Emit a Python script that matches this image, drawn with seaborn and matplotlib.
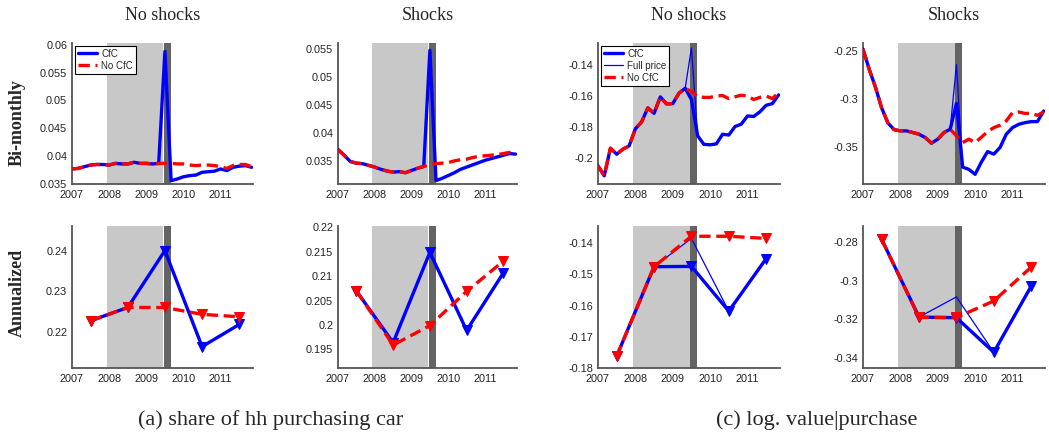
import matplotlib
matplotlib.use("Agg")
import matplotlib.pyplot as plt
import seaborn as sns
from matplotlib.ticker import FuncFormatter, FixedLocator
from matplotlib.lines import Line2D

sns.set_style("white")
plt.rcParams['font.family'] = ['Liberation Sans', 'DejaVu Sans']
plt.rcParams['axes.unicode_minus'] = False

# ---------------- data ----------------
bm_x = [2007.000, 2007.167, 2007.333, 2007.500, 2007.667, 2007.833,
        2008.000, 2008.167, 2008.333, 2008.500, 2008.667, 2008.833,
        2009.000, 2009.167, 2009.333, 2009.500, 2009.667, 2009.833,
        2010.000, 2010.167, 2010.333, 2010.500, 2010.667, 2010.833,
        2011.000, 2011.167, 2011.333, 2011.500, 2011.667, 2011.833]
ann_x = [2007.5, 2008.5, 2009.5, 2010.5, 2011.5]
year_ticks = [2007, 2008, 2009, 2010, 2011]

# (a) share of hh purchasing car, bi-monthly
share_ns_cfc = [0.0377, 0.0378, 0.0381, 0.0384, 0.0385, 0.0385, 0.0384, 0.0387, 0.0386, 0.0386,
                0.0389, 0.0387, 0.0387, 0.0386, 0.0387, 0.0588, 0.0356, 0.0359, 0.0363, 0.0365,
                0.0366, 0.0371, 0.0372, 0.0373, 0.0377, 0.0374, 0.0380, 0.0382, 0.0383, 0.0380]
share_ns_nocfc = [0.0377, 0.0378, 0.0381, 0.0384, 0.0385, 0.0385, 0.0384, 0.0387, 0.0386, 0.0386,
                  0.0389, 0.0387, 0.0387, 0.0386, 0.0387, 0.0387, 0.0387, 0.0386, 0.0386, 0.0384,
                  0.0383, 0.0384, 0.0384, 0.0383, 0.0381, 0.0378, 0.0383, 0.0385, 0.0385, 0.0381]
share_sh_cfc = [0.0371, 0.0361, 0.0350, 0.0347, 0.0346, 0.0343, 0.0340, 0.0336, 0.0333, 0.0331,
                0.0332, 0.0330, 0.0334, 0.0338, 0.0341, 0.0547, 0.0316, 0.0320, 0.0325, 0.0330,
                0.0336, 0.0340, 0.0344, 0.0348, 0.0352, 0.0355, 0.0358, 0.0361, 0.0364, 0.0363]
share_sh_nocfc = [0.0371, 0.0361, 0.0350, 0.0347, 0.0346, 0.0343, 0.0340, 0.0336, 0.0333, 0.0331,
                  0.0332, 0.0330, 0.0334, 0.0338, 0.0341, 0.0344, 0.0346, 0.0347, 0.0348, 0.0351,
                  0.0353, 0.0354, 0.0357, 0.0359, 0.0360, 0.0361, 0.0362, 0.0364, 0.0366, 0.0365]

# (c) log. value | purchase, bi-monthly
logv_ns_cfc = [-0.2054, -0.2118, -0.1940, -0.1979, -0.1946, -0.1925, -0.1815, -0.1770, -0.1680, -0.1715,
               -0.1609, -0.1654, -0.1652, -0.1585, -0.1553, -0.1626, -0.1860, -0.1915, -0.1918, -0.1912,
               -0.1850, -0.1855, -0.1800, -0.1785, -0.1732, -0.1735, -0.1705, -0.1663, -0.1652, -0.1596]
logv_ns_full = [-0.2054, -0.2118, -0.1940, -0.1979, -0.1946, -0.1925, -0.1815, -0.1770, -0.1680, -0.1715,
                -0.1609, -0.1654, -0.1652, -0.1585, -0.1553, -0.1293, -0.1860, -0.1915, -0.1918, -0.1912,
                -0.1850, -0.1855, -0.1800, -0.1785, -0.1732, -0.1735, -0.1705, -0.1663, -0.1652, -0.1596]
logv_ns_nocfc = [-0.2054, -0.2118, -0.1940, -0.1979, -0.1946, -0.1925, -0.1815, -0.1770, -0.1680, -0.1715,
                 -0.1609, -0.1654, -0.1652, -0.1585, -0.1553, -0.1575, -0.1605, -0.1612, -0.1612, -0.1603,
                 -0.1600, -0.1620, -0.1608, -0.1598, -0.1603, -0.1626, -0.1612, -0.1603, -0.1620, -0.1580]
logv_sh_cfc = [-0.2476, -0.2690, -0.2875, -0.3094, -0.3250, -0.3320, -0.3333, -0.3333, -0.3350, -0.3368,
               -0.3403, -0.3462, -0.3420, -0.3350, -0.3316, -0.3045, -0.3712, -0.3736, -0.3788, -0.3660,
               -0.3550, -0.3576, -0.3507, -0.3368, -0.3299, -0.3264, -0.3247, -0.3236, -0.3236, -0.3125]
logv_sh_full = [-0.2476, -0.2690, -0.2875, -0.3094, -0.3250, -0.3320, -0.3333, -0.3333, -0.3350, -0.3368,
                -0.3403, -0.3462, -0.3420, -0.3350, -0.3316, -0.2639, -0.3712, -0.3736, -0.3788, -0.3660,
                -0.3550, -0.3576, -0.3507, -0.3368, -0.3299, -0.3264, -0.3247, -0.3236, -0.3236, -0.3125]
logv_sh_nocfc = [-0.2476, -0.2690, -0.2875, -0.3094, -0.3250, -0.3320, -0.3333, -0.3333, -0.3350, -0.3368,
                 -0.3403, -0.3462, -0.3420, -0.3350, -0.3316, -0.3385, -0.3455, -0.3420, -0.3455, -0.3400,
                 -0.3340, -0.3299, -0.3274, -0.3229, -0.3142, -0.3135, -0.3150, -0.3150, -0.3170, -0.3135]

# annualized
share_ns_ann_cfc = [0.2227, 0.2260, 0.2401, 0.2163, 0.2218]
share_ns_ann_nocfc = [0.2227, 0.2260, 0.2260, 0.2243, 0.2237]
share_sh_ann_cfc = [0.2070, 0.1964, 0.2149, 0.1989, 0.2107]
share_sh_ann_nocfc = [0.2070, 0.1959, 0.1999, 0.2069, 0.2131]
logv_ns_ann_cfc = [-0.1763, -0.1475, -0.1474, -0.1618, -0.1449]
logv_ns_ann_full = [-0.1763, -0.1475, -0.1384, -0.1618, -0.1449]
logv_ns_ann_nocfc = [-0.1763, -0.1475, -0.1377, -0.1377, -0.1384]
logv_sh_ann_cfc = [-0.2788, -0.3188, -0.3191, -0.3369, -0.3029]
logv_sh_ann_full = [-0.2788, -0.3188, -0.3084, -0.3369, -0.3029]
logv_sh_ann_nocfc = [-0.2788, -0.3190, -0.3190, -0.3105, -0.2931]

col_titles = ["No shocks", "Shocks", "No shocks", "Shocks"]
row_labels = ["Bi-monthly", "Annualized"]
captions = ["(a) share of hh purchasing car", "(c) log. value|purchase"]
legend_a = ["CfC", "No CfC"]
legend_c = ["CfC", "Full price", "No CfC"]

yticks = [
    [0.035, 0.04, 0.045, 0.05, 0.055, 0.06],
    [0.035, 0.04, 0.045, 0.05, 0.055],
    [-0.2, -0.18, -0.16, -0.14],
    [-0.35, -0.3, -0.25],
    [0.22, 0.23, 0.24],
    [0.195, 0.2, 0.205, 0.21, 0.215, 0.22],
    [-0.18, -0.17, -0.16, -0.15, -0.14],
    [-0.34, -0.32, -0.3, -0.28],
]
ylims = [
    (0.0350, 0.0603), (0.0310, 0.0560), (-0.2171, -0.1261), (-0.3889, -0.2413),
    (0.2110, 0.2462), (0.1912, 0.2203), (-0.1801, -0.1344), (-0.3450, -0.2719),
]

# ---------------- figure ----------------
W, H = 1049, 433
fig = plt.figure(figsize=(W / 100, H / 100), dpi=100)

col_px = [(72, 253), (338, 517), (598, 780), (863, 1045)]
row_px = [(43, 184), (226, 368)]

BLUE = '#0000FF'
RED = '#FF0000'
LGREY = '#C8C8C8'
DGREY = '#646464'
AXC = '#555555'

def make_ax(r, c):
    x0, x1 = col_px[c]
    y0, y1 = row_px[r]
    ax = fig.add_axes([x0 / W, 1 - y1 / H, (x1 - x0) / W, (y1 - y0) / H])
    return ax

def line(ax, x, y, color, lw, ls='-', marker=None, z=3):
    sns.lineplot(x=x, y=y, ax=ax, color=color, linewidth=lw, linestyle=ls,
                 marker=marker, markersize=6.5, markeredgecolor=color,
                 markerfacecolor=color, estimator=None, sort=False,
                 legend=False, zorder=z)

DASH = (0, (3.4, 1.7))

axes = []
for r in range(2):
    for c in range(4):
        ax = make_ax(r, c)
        axes.append(ax)
        ax.axvspan(2007.93, 2009.455, color=LGREY, lw=0, zorder=0)
        ax.axvspan(2009.47, 2009.66, color=DGREY, lw=0, zorder=0)

# top row
line(axes[0], bm_x, share_ns_cfc, BLUE, 2.4)
line(axes[0], bm_x, share_ns_nocfc, RED, 2.4, DASH)
line(axes[1], bm_x, share_sh_cfc, BLUE, 2.4)
line(axes[1], bm_x, share_sh_nocfc, RED, 2.4, DASH)
line(axes[2], bm_x, logv_ns_cfc, BLUE, 2.4)
line(axes[2], bm_x, logv_ns_full, BLUE, 0.9)
line(axes[2], bm_x, logv_ns_nocfc, RED, 2.4, DASH)
line(axes[3], bm_x, logv_sh_cfc, BLUE, 2.4)
line(axes[3], bm_x, logv_sh_full, BLUE, 0.9)
line(axes[3], bm_x, logv_sh_nocfc, RED, 2.4, DASH)

# bottom row
line(axes[4], ann_x, share_ns_ann_cfc, BLUE, 2.4, '-', 'v')
line(axes[4], ann_x, share_ns_ann_nocfc, RED, 2.4, DASH, 'v')
line(axes[5], ann_x, share_sh_ann_cfc, BLUE, 2.4, '-', 'v')
line(axes[5], ann_x, share_sh_ann_nocfc, RED, 2.4, DASH, 'v')
line(axes[6], ann_x, logv_ns_ann_cfc, BLUE, 2.4, '-', 'v')
line(axes[6], ann_x, logv_ns_ann_full, BLUE, 0.9)
line(axes[6], ann_x, logv_ns_ann_nocfc, RED, 2.4, DASH, 'v')
line(axes[7], ann_x, logv_sh_ann_cfc, BLUE, 2.4, '-', 'v')
line(axes[7], ann_x, logv_sh_ann_full, BLUE, 0.9)
line(axes[7], ann_x, logv_sh_ann_nocfc, RED, 2.4, DASH, 'v')

fmt = FuncFormatter(lambda v, p: '{:g}'.format(round(v, 6)))
for i, ax in enumerate(axes):
    ax.set_xlim(2007, 2011.87)
    ax.set_ylim(*ylims[i])
    ax.xaxis.set_major_locator(FixedLocator(year_ticks))
    ax.yaxis.set_major_locator(FixedLocator(yticks[i]))
    ax.yaxis.set_major_formatter(fmt)
    ax.xaxis.set_major_formatter(FuncFormatter(lambda v, p: '%d' % round(v)))
    for s in ['top', 'right']:
        ax.spines[s].set_visible(False)
    for s in ['left', 'bottom']:
        ax.spines[s].set_color(AXC)
        ax.spines[s].set_linewidth(1.3)
    ax.tick_params(axis='both', direction='in', length=3, width=0.8, color=AXC,
                   labelsize=7.8, labelcolor='#222222')
    ax.tick_params(axis='x', pad=4.5)
    ax.tick_params(axis='y', pad=3.5)
    ax.set_xlabel('')
    ax.set_ylabel('')
    ax.set_facecolor('white')

# legends
h_cfc = Line2D([], [], color=BLUE, lw=2.4)
h_full = Line2D([], [], color=BLUE, lw=0.9)
h_no = Line2D([], [], color=RED, lw=2.4, ls=DASH)
leg_kw = dict(loc='upper left', fontsize=7, frameon=True, fancybox=False,
              edgecolor='black', framealpha=1, borderpad=0.3, labelspacing=0.2,
              handlelength=2.0, handletextpad=0.4, borderaxespad=0.3)
lg = axes[0].legend([h_cfc, h_no], legend_a, **leg_kw)
lg.get_frame().set_linewidth(0.8)
lg = axes[2].legend([h_cfc, h_full, h_no], legend_c, **leg_kw)
lg.get_frame().set_linewidth(0.8)

# column titles
for c, t in enumerate(col_titles):
    x0, x1 = col_px[c]
    fig.text((x0 + x1) / 2 / W, 1 - 15 / H, t, ha='center', va='center',
             family='Liberation Serif', fontsize=13)

# row labels
fig.text(17 / W, 1 - 123 / H, row_labels[0], rotation=90, ha='center', va='center',
         family='Liberation Serif', fontweight='bold', fontsize=13)
fig.text(17 / W, 1 - 293 / H, row_labels[1], rotation=90, ha='center', va='center',
         family='Liberation Serif', fontweight='bold', fontsize=13)

# captions
fig.text(271 / W, 1 - 420 / H, captions[0], ha='center', va='center',
         family='Liberation Serif', fontsize=16)
fig.text(817 / W, 1 - 420 / H, captions[1], ha='center', va='center',
         family='Liberation Serif', fontsize=16)

fig.savefig('out.png', dpi=100)
